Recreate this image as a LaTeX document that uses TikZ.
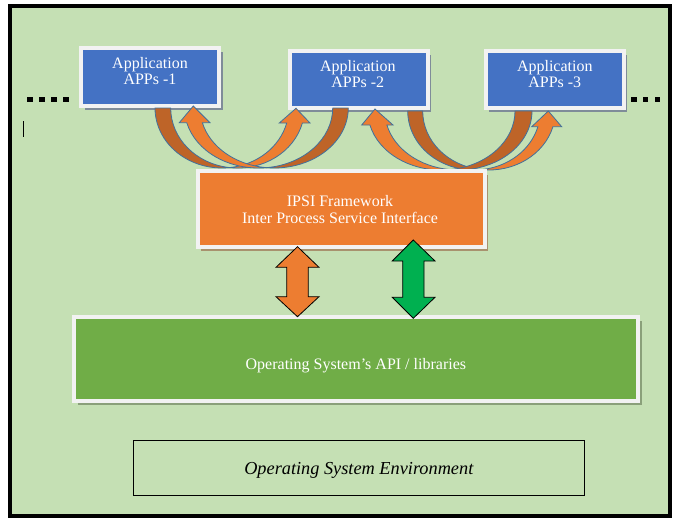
\documentclass[tikz,border=0pt]{standalone}
\usepackage{fontspec}
\setmainfont{Liberation Serif}
\usetikzlibrary{shadows}
\definecolor{bggreen}{HTML}{C5E0B4}
\definecolor{appblue}{HTML}{4472C4}
\definecolor{ipsiorange}{HTML}{ED7D31}
\definecolor{osgreen}{HTML}{70AD47}
\definecolor{arrgreen}{HTML}{00B050}
\definecolor{boxborder}{HTML}{F2F2F2}
\definecolor{darkorange}{HTML}{BE6428}
\definecolor{arrowline}{HTML}{41719C}
\definecolor{appshadow}{HTML}{7F8C99}
\definecolor{ipsishadow}{HTML}{A8926E}
\definecolor{osshadow}{HTML}{8AA07A}
\begin{document}
\begin{tikzpicture}[x=1pt,y=-1pt,
  box/.style={rectangle, draw=boxborder, line width=4pt, inner sep=0pt},
  appbox/.style={box, fill=appblue, minimum width=138pt, minimum height=57pt,
    drop shadow={shadow xshift=3.5pt, shadow yshift=-3.5pt, fill=appshadow, opacity=1}},
  ipsibox/.style={box, fill=ipsiorange, minimum width=287pt, minimum height=76pt,
    drop shadow={shadow xshift=3.5pt, shadow yshift=-3.5pt, fill=ipsishadow, opacity=1}},
  osbox/.style={box, fill=osgreen, minimum width=564pt, minimum height=84pt,
    drop shadow={shadow xshift=3.5pt, shadow yshift=-3.5pt, fill=osshadow, opacity=1}},
  envbox/.style={rectangle, draw=black, line width=1pt, minimum width=451pt, minimum height=55pt, inner sep=0pt},
  boxtext/.style={text=white, align=center, inner sep=0pt, font=\fontsize{16}{16}\selectfont},
  envtext/.style={inner sep=0pt, font=\fontsize{18.3}{20}\selectfont\itshape},
  backband/.style={fill=darkorange, draw=arrowline, line width=0.8pt, line join=round},
  frontband/.style={fill=ipsiorange, draw=arrowline, line width=0.8pt, line join=miter},
  dblarrow/.style={draw=black, line width=0.8pt, line join=miter},
  dotsq/.style={fill=black},
]
\useasboundingbox (0,0) rectangle (681,525);
\fill[white] (0,0) rectangle (681,525);
% outer frame
\draw[line width=4pt, fill=bggreen] (10,6) rectangle (669.7,516.3);

% dots and cursor
\foreach \x in {27,39,51,63} \fill[dotsq] (\x,96.5) rectangle ++(5.5,5.3);
\foreach \x in {631,642.5,654.5} \fill[dotsq] (\x,96.5) rectangle ++(5.5,5.3);
\draw[line width=1pt] (23.5,121) -- (23.5,137);

% application boxes
\node[appbox, minimum height=58pt] (app1) at (150,77) {};
\node[appbox] (app2) at (358.5,79.5) {};
\node[appbox] (app3) at (554.5,79.7) {};
\node[boxtext] (app1t) at (150,73.1) {\strut Application\\\strut APPs -1};
\node[boxtext] (app2t) at (357.8,75.8) {\strut Application\\\strut APPs -2};
\node[boxtext] (app3t) at (554.8,75.8) {\strut Application\\\strut APPs -3};

% curved arrows, left pair
\filldraw[backband] (155,108)
  arc[start angle=180, end angle=83.26, x radius=66.9, y radius=60]
  arc[start angle=96.74, end angle=180, x radius=66.9, y radius=60] -- cycle;
\filldraw[backband] (348.3,108)
  arc[start angle=0, end angle=96.04, x radius=74.1, y radius=60]
  arc[start angle=83.96, end angle=0, x radius=74.1, y radius=60] -- cycle;
\filldraw[frontband] (229.75,167.6)
  arc[start angle=96.74, end angle=14.48, x radius=66.9, y radius=60]
  -- (310,123) -- (296,108.3) -- (279.3,123) -- (286.7,123)
  arc[start angle=14.48, end angle=83.26, x radius=66.9, y radius=60] -- cycle;
\filldraw[frontband] (266.4,167.67)
  arc[start angle=83.96, end angle=165.82, x radius=74.1, y radius=60]
  -- (179.3,122.7) -- (193.3,106) -- (210,122.7) -- (202.36,122.7)
  arc[start angle=165.82, end angle=96.04, x radius=74.1, y radius=60] -- cycle;

% curved arrows, right pair
\filldraw[backband] (407.7,111)
  arc[start angle=180, end angle=83.5, x radius=66.3, y radius=59]
  arc[start angle=96.5, end angle=180, x radius=66.3, y radius=59] -- cycle;
\filldraw[backband] (532,111)
  arc[start angle=0, end angle=96.63, x radius=73.6, y radius=59]
  arc[start angle=83.37, end angle=0, x radius=73.6, y radius=59] -- cycle;
\filldraw[frontband] (481.5,169.62)
  arc[start angle=96.5, end angle=15.43, x radius=66.3, y radius=59]
  -- (561.7,126.7) -- (548.3,111) -- (531.7,126.7) -- (537.9,126.7)
  arc[start angle=15.43, end angle=83.5, x radius=66.3, y radius=59] -- cycle;
\filldraw[frontband] (449.9,169.6)
  arc[start angle=83.37, end angle=166.27, x radius=73.6, y radius=59]
  -- (361.7,125) -- (375,109) -- (393,125) -- (386.9,125)
  arc[start angle=166.27, end angle=96.63, x radius=73.6, y radius=59] -- cycle;

% IPSI framework
\node[ipsibox] (ipsi) at (341,209.2) {};
\node[boxtext] (ipsit) at (340,211.5) {\strut IPSI Framework\\\strut Inter Process Service Interface};

% OS API
\node[osbox] (osapi) at (356,359) {};
\node[boxtext, anchor=base] (osapit) at (355.9,369) {Operating System’s API / libraries};

% OS environment
\node[envbox] (env) at (358.8,467.9) {};
\node[envtext, anchor=base] (envt) at (358.8,474) {Operating System Environment};

% double arrows between IPSI and OS API
\filldraw[dblarrow, fill=ipsiorange] (297.5,246.7) -- (319,267.3) -- (308.3,267.3) -- (308.3,296.7)
  -- (319,296.7) -- (297.5,316.7) -- (276,296.7) -- (286.7,296.7) -- (286.7,267.3) -- (276,267.3) -- cycle;
\filldraw[dblarrow, fill=arrgreen] (413.3,240) -- (435,261) -- (424,261) -- (424,297.3)
  -- (435,297.3) -- (413.3,318.3) -- (392.3,297.3) -- (402.7,297.3) -- (402.7,261) -- (392.3,261) -- cycle;
\end{tikzpicture}
\end{document}
